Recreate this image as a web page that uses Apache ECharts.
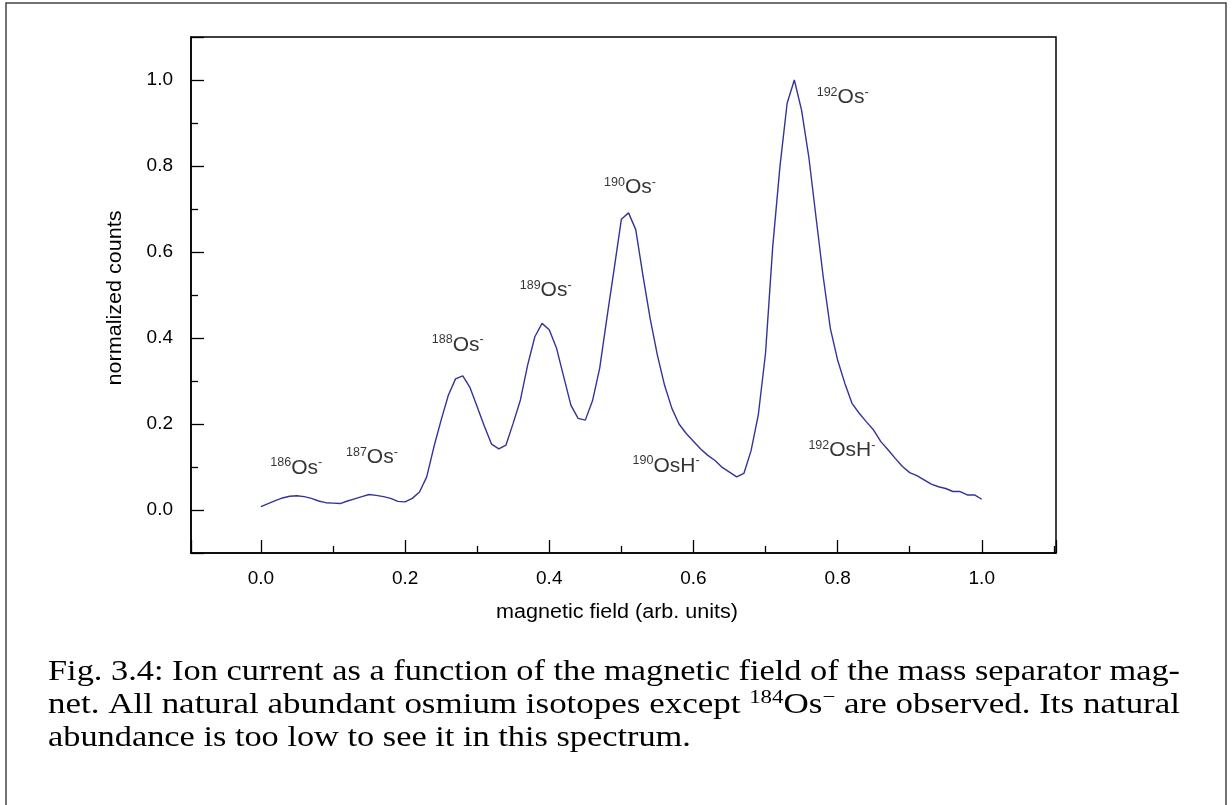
<!DOCTYPE html>
<html><head><meta charset="utf-8">
<script src="https://cdn.jsdelivr.net/npm/echarts@6/dist/echarts.min.js"></script>
<style>html,body{margin:0;padding:0;background:#fff}#c{width:1232px;height:805px}</style>
</head><body><div id="c"></div>
<script>
// ---- data ----
const fieldValues = [0.00,0.01,0.02,0.03,0.04,0.05,0.06,0.07,0.08,0.09,
  0.10,0.11,0.12,0.13,0.14,0.15,0.16,0.17,0.18,0.19,
  0.20,0.21,0.22,0.23,0.24,0.25,0.26,0.27,0.28,0.29,
  0.30,0.31,0.32,0.33,0.34,0.35,0.36,0.37,0.38,0.39,
  0.40,0.41,0.42,0.43,0.44,0.45,0.46,0.47,0.48,0.49,
  0.50,0.51,0.52,0.53,0.54,0.55,0.56,0.57,0.58,0.59,
  0.60,0.61,0.62,0.63,0.64,0.65,0.66,0.67,0.68,0.69,
  0.70,0.71,0.72,0.73,0.74,0.75,0.76,0.77,0.78,0.79,
  0.80,0.81,0.82,0.83,0.84,0.85,0.86,0.87,0.88,0.89,
  0.90,0.91,0.92,0.93,0.94,0.95,0.96,0.97,0.98,0.99,1.00];
const countValues = [0.008,0.015,0.022,0.028,0.032,0.033,0.031,0.027,0.021,0.017,
  0.016,0.015,0.021,0.026,0.031,0.036,0.034,0.031,0.027,0.020,
  0.019,0.027,0.042,0.077,0.147,0.209,0.267,0.305,0.312,0.285,
  0.240,0.195,0.153,0.142,0.151,0.202,0.256,0.337,0.403,0.434,
  0.419,0.377,0.310,0.244,0.213,0.209,0.254,0.330,0.447,0.560,
  0.676,0.691,0.652,0.545,0.445,0.360,0.290,0.237,0.200,0.178,
  0.160,0.142,0.127,0.115,0.099,0.088,0.077,0.085,0.138,0.221,
  0.364,0.612,0.798,0.946,1.000,0.930,0.822,0.682,0.543,0.422,
  0.349,0.295,0.248,0.225,0.205,0.186,0.159,0.140,0.120,0.101,
  0.087,0.080,0.070,0.060,0.054,0.050,0.043,0.043,0.035,0.035,0.025];
const xTickLabels = ['0.0','0.2','0.4','0.6','0.8','1.0'];
const yTickLabels = ['0.0','0.2','0.4','0.6','0.8','1.0'];
const peakLabelX = [0.049,0.154,0.273,0.395,0.512,0.562,0.807,0.806];
const peakLabelY = [0.098,0.123,0.384,0.510,0.750,0.103,0.959,0.138];
const peakLabelMass = ['186','187','188','189','190','190','192','192'];
const peakLabelIon = ['Os','Os','Os','Os','Os','OsH','Os','OsH'];
const captionLines = [
  'Fig. 3.4: Ion current as a function of the magnetic field of the mass separator mag-',
  ['net. All natural abundant osmium isotopes except ', '184', 'Os', '\u2212', ' are observed. Its natural'],
  'abundance is too low to see it in this spectrum.'
];

// ---- helpers ----
const SANS = '"Liberation Sans", Arial, Helvetica, sans-serif';
const SERIF = '"Liberation Serif", "Times New Roman", serif';
const cv = document.createElement('canvas').getContext('2d');
function tw(size, fam, t){ cv.font = size + 'px ' + fam; return cv.measureText(t).width; }
const CAP = 29, CAPSUP = 19;
const capTarget = 1132;
const w1 = tw(CAP, SERIF, captionLines[0]);
const p2 = captionLines[1];
const w2 = tw(CAP, SERIF, p2[0]) + tw(CAPSUP, SERIF, p2[1]) + tw(CAP, SERIF, p2[2]) + tw(CAPSUP, SERIF, p2[3]) + tw(CAP, SERIF, p2[4]);
const s1 = capTarget / w1, s2 = capTarget / w2;
const xName = 'magnetic field (arb. units)', yName = 'normalized counts';
const NAMESZ = 20;
const sx = 242 / tw(NAMESZ, SANS, xName);
const sy = sx;

const lineData = fieldValues.map((x, i) => [x, countValues[i]]);
const labelData = peakLabelX.map((x, i) => ({value:[x, peakLabelY[i]], mass:peakLabelMass[i], ion:peakLabelIon[i]}));

const fmt = (list) => (v) => { const s = (Math.abs(v) < 1e-9 ? 0 : v).toFixed(1); return list.indexOf(s) >= 0 && Math.abs(v*10 - Math.round(v*10)) < 1e-6 ? s : ''; };

const chart = echarts.init(document.getElementById('c'));
chart.setOption({
  animation: false,
  backgroundColor: '#fff',
  grid: {left: 191, top: 37, width: 865, height: 516, show: true, borderColor: '#000', borderWidth: 1.5, containLabel: false},
  xAxis: {
    type: 'value', min: -0.097, max: 1.103, splitNumber: 6,
    axisLine: {show: true, onZero: false, lineStyle: {color: '#000', width: 1.5}},
    axisTick: {show: true, inside: true, length: 13, lineStyle: {color: '#000', width: 1.3}},
    minorTick: {show: true, splitNumber: 2, length: 7, lineStyle: {color: '#000', width: 1.3}},
    splitLine: {show: false},
    axisLabel: {show: true, showMinLabel: false, showMaxLabel: false, margin: 16, color: '#000', fontSize: 19, fontFamily: SANS, formatter: fmt(xTickLabels)}
  },
  yAxis: {
    type: 'value', min: -0.1, max: 1.1, splitNumber: 6,
    axisLine: {show: true, onZero: false, lineStyle: {color: '#000', width: 1.5}},
    axisTick: {show: true, inside: true, length: 13, lineStyle: {color: '#000', width: 1.3}},
    minorTick: {show: true, splitNumber: 2, length: 7, lineStyle: {color: '#000', width: 1.3}},
    splitLine: {show: false},
    axisLabel: {show: true, showMinLabel: false, showMaxLabel: false, margin: 18, color: '#000', fontSize: 19, fontFamily: SANS, formatter: fmt(yTickLabels)}
  },
  series: [
    {type: 'line', data: lineData, showSymbol: false, symbol: 'none', smooth: false,
     lineStyle: {color: '#333399', width: 1.4}, silent: true},
    {type: 'scatter', data: labelData, symbolSize: 0, silent: true,
     label: {show: true, position: 'inside', align: 'center', verticalAlign: 'middle',
       formatter: (p) => '{s|' + p.data.mass + '}{m|' + p.data.ion + '}{s|-}',
       rich: {
         s: {fontSize: 12.5, lineHeight: 12, verticalAlign: 'top', color: '#000', fontFamily: SANS},
         m: {fontSize: 21, lineHeight: 23, color: '#000', fontFamily: SANS}
       }}}
  ],
  graphic: [
    {type: 'rect', silent: true, shape: {x: 6, y: 3, width: 1220, height: 900}, style: {fill: 'none', stroke: '#444', lineWidth: 1.5}},
    {type: 'text', silent: true, x: 617, y: 612, scaleX: sx, style: {text: xName, fontSize: NAMESZ, fontFamily: SANS, fill: '#000', align: 'center', verticalAlign: 'middle'}},
    {type: 'text', silent: true, x: 115, y: 298, rotation: Math.PI/2, scaleX: sy, style: {text: yName, fontSize: NAMESZ, fontFamily: SANS, fill: '#000', align: 'center', verticalAlign: 'middle'}},
    {type: 'text', silent: true, x: 48, y: 672, scaleX: s1, style: {text: captionLines[0], fontSize: CAP, fontFamily: SERIF, fill: '#000', align: 'left', verticalAlign: 'middle'}},
    {type: 'text', silent: true, x: 48, y: 705, scaleX: s2, style: {
      text: '{n|' + p2[0] + '}{s|' + p2[1] + '}{n|' + p2[2] + '}{s|' + p2[3] + '}{n|' + p2[4] + '}',
      align: 'left', verticalAlign: 'middle',
      rich: {n: {fontSize: CAP, lineHeight: 32, fontFamily: SERIF, color: '#000'},
             s: {fontSize: CAPSUP, lineHeight: 19, verticalAlign: 'top', fontFamily: SERIF, color: '#000'}}}},
    {type: 'text', silent: true, x: 48, y: 738, scaleX: s1, style: {text: captionLines[2], fontSize: CAP, fontFamily: SERIF, fill: '#000', align: 'left', verticalAlign: 'middle'}}
  ]
});
</script></body></html>
